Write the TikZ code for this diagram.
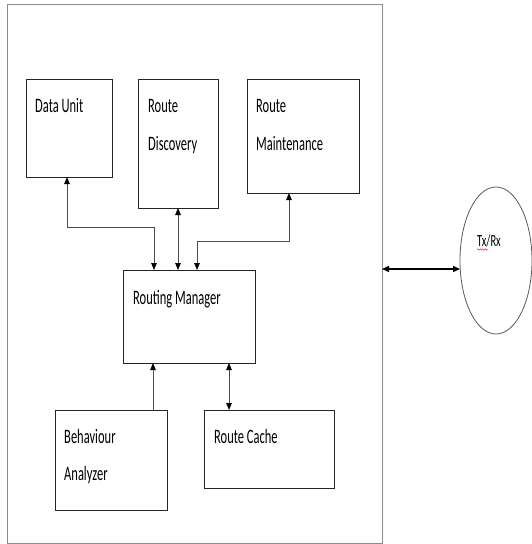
\documentclass[tikz,border=0pt]{standalone}
\usepackage{fontspec}
\setmainfont{Carlito}
\usetikzlibrary{arrows.meta,decorations.pathmorphing,shapes.geometric}
\newcommand{\boxtext}[1]{\scalebox{0.61}[1]{\fontsize{20.5}{24}\selectfont #1}}
\newcommand{\txtext}[1]{\scalebox{0.62}[1]{\fontsize{17}{20}\selectfont #1}}
\begin{document}
\begin{tikzpicture}[x=1pt,y=-1pt,
  block/.style={draw=black!85, line width=0.9pt, rectangle, anchor=north west,
    inner sep=0pt, outer sep=0pt},
  frame/.style={draw=black!45, line width=1pt, rectangle, anchor=north west,
    inner sep=0pt, outer sep=0pt},
  lbl/.style={anchor=base west, inner sep=0pt, text=black},
  link/.style={draw=black!70, line width=0.9pt,
    {Triangle[length=7pt,width=5.5pt,black]}-{Triangle[length=7pt,width=5.5pt,black]}},
  uplink/.style={draw=black!70, line width=0.9pt,
    -{Triangle[length=7pt,width=5.5pt,black]}},
  radio/.style={draw=black!65, line width=0.8pt, ellipse, inner sep=0pt, outer sep=0pt}
]
\useasboundingbox (0,0) rectangle (532,544);

% enclosing node
\node[frame, minimum width=375pt, minimum height=539pt] (outer) at (7,4) {};

% functional blocks
\node[block, minimum width=86pt,  minimum height=98pt]  (du)  at (26,79)  {};
\node[block, minimum width=80pt,  minimum height=129pt] (rd)  at (138,79) {};
\node[block, minimum width=112pt, minimum height=114pt] (rmt) at (247,79) {};
\node[block, minimum width=132pt, minimum height=93pt]  (rm)  at (123,270) {};
\node[block, minimum width=112pt, minimum height=100pt] (ba)  at (55,410) {};
\node[block, minimum width=130pt, minimum height=78pt]  (rc)  at (204,410) {};

% block labels
\node[lbl] (tdu)  at (35,112)  {\boxtext{Data Unit}};
\node[lbl] (trd1) at (148,112) {\boxtext{Route}};
\node[lbl] (trd2) at (148,150) {\boxtext{Discovery}};
\node[lbl] (tmt1) at (256,112) {\boxtext{Route}};
\node[lbl] (tmt2) at (256,150) {\boxtext{Maintenance}};
\node[lbl] (trm)  at (133,304) {\boxtext{Routing Manager}};
\node[lbl] (tba1) at (64,443)  {\boxtext{Behaviour}};
\node[lbl] (tba2) at (64,480)  {\boxtext{Analyzer}};
\node[lbl] (trc)  at (214,443) {\boxtext{Route Cache}};

% transceiver
\node[radio, minimum width=72pt, minimum height=147pt] (tx) at (496,260.5) {};
\node[lbl] (ttx) at (477,246) {\txtext{Tx/Rx}};
\draw[red!85, line width=0.5pt, decorate,
  decoration={snake, amplitude=0.7pt, segment length=2.5pt}] (477,249.5) -- (488,249.5);

% bend points of the routed connectors
\coordinate (c1) at (67,227);
\coordinate (c2) at (154,227);
\coordinate (c4) at (197,241);
\coordinate (c5) at (289,241);
\coordinate (c6) at (153,0);
\coordinate (c7) at (229,0);
\coordinate (txa) at (460,269);

% connectors
\draw[link] (du.south -| c1) -- (c1) -- (c2) -- (rm.north -| c2);
\draw[link] (rd.south) -- (rd.south |- rm.north);
\draw[link] (rm.north -| c4) -- (c4) -- (c5) -- (rmt.south -| c5);
\draw[uplink] (ba.north -| c6) -- (rm.south -| c6);
\draw[link] (rm.south -| c7) -- (rc.north -| c7);
\draw[draw=black, line width=1.4pt,
  {Triangle[length=7pt,width=6pt]}-{Triangle[length=7pt,width=6pt]}]
  (outer.east |- txa) -- (txa);
\end{tikzpicture}
\end{document}
